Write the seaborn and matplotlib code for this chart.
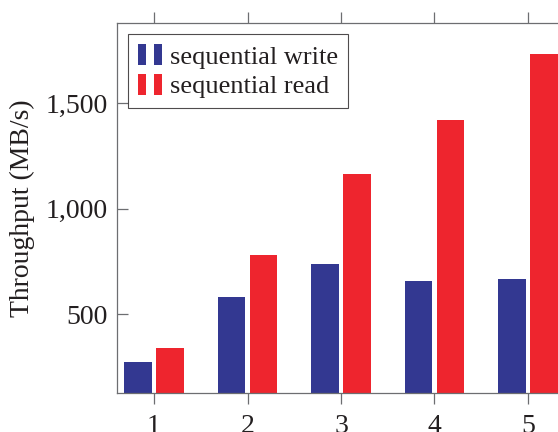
import matplotlib
matplotlib.use("Agg")
import matplotlib.pyplot as plt
import seaborn as sns
import pandas as pd
from matplotlib.patches import Rectangle
from matplotlib.legend_handler import HandlerTuple
from matplotlib.ticker import FuncFormatter

# ---- data ----
categories = ["1", "2", "3", "4", "5"]
seq_write = [271, 579, 736, 655, 665]
seq_read = [340, 780, 1167, 1420, 1736]
series_names = ["sequential write", "sequential read"]
y_ticks = [500, 1000, 1500]
y_label = "Throughput (MB/s)"

blue = "#333891"
red = "#EE252E"
text_col = "#231F20"
spine_col = "#6D6E71"

df = pd.DataFrame({
    "cat": categories * 2,
    "value": seq_write + seq_read,
    "series": [series_names[0]] * len(categories) + [series_names[1]] * len(categories),
})

sns.set_theme(style="white")
plt.rcParams["font.family"] = ["Liberation Serif", "DejaVu Serif"]
plt.rcParams["text.color"] = text_col

FS = 20
LFS = 19

fig = plt.figure(figsize=(5.58, 4.32), dpi=100)
ax = fig.add_axes([117 / 558, 1 - 393.3 / 432, (565 - 117) / 558, (393.3 - 23) / 432])

sns.barplot(data=df, x="cat", y="value", hue="series", order=categories,
            hue_order=series_names, palette=[blue, red], width=0.684, gap=0.14,
            linewidth=0, saturation=1, legend=False, ax=ax)

ax.set_xlim(-0.396, 4.396)
ax.set_ylim(124, 1882)
ax.set_yticks(y_ticks)
ax.yaxis.set_major_formatter(FuncFormatter(lambda v, p: f"{int(v):,}"))
ax.set_xlabel("")
ax.set_ylabel(y_label, fontsize=FS, color=text_col, labelpad=8)

for s in ax.spines.values():
    s.set_color(spine_col)
    s.set_linewidth(0.9)

ax.tick_params(axis="y", direction="in", length=8, width=0.9, color=spine_col,
               labelsize=FS, labelcolor=text_col, pad=6.5, left=True, right=False)
ax.tick_params(axis="x", direction="out", length=8, width=0.9, color=spine_col,
               labelsize=FS, labelcolor=text_col, pad=7, bottom=True, top=True,
               labeltop=False)

h1 = (Rectangle((0, 0), 1, 1, facecolor=blue, edgecolor="none"),
      Rectangle((0, 0), 1, 1, facecolor=blue, edgecolor="none"))
h2 = (Rectangle((0, 0), 1, 1, facecolor=red, edgecolor="none"),
      Rectangle((0, 0), 1, 1, facecolor=red, edgecolor="none"))
leg = ax.legend([h1, h2], series_names, loc="upper left",
                handler_map={tuple: HandlerTuple(ndivide=None, pad=0.3)},
                fontsize=LFS, frameon=True, fancybox=False,
                handlelength=0.91, handleheight=0.83, handletextpad=0.3,
                labelspacing=0.2, borderpad=0.38, borderaxespad=0.42)
leg.get_frame().set_edgecolor(text_col)
leg.get_frame().set_linewidth(0.8)
for t in leg.get_texts():
    t.set_color(text_col)

fig.savefig("out.png", dpi=100)
